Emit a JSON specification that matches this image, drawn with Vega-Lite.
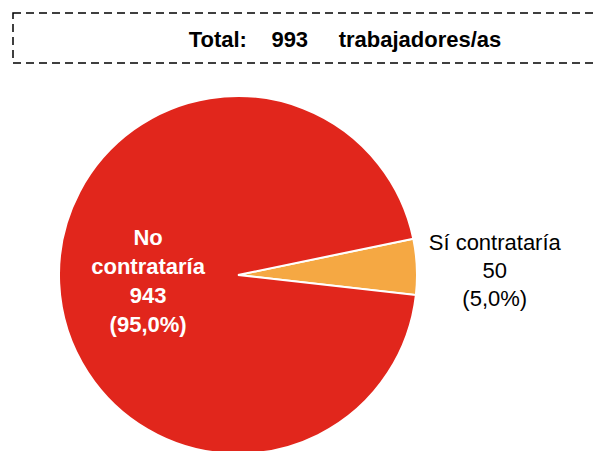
{
  "$schema": "https://vega.github.io/schema/vega-lite/v6.json",
  "padding": {"left": 12, "top": 12, "right": 0, "bottom": 0},
  "background": "white",
  "bounds": "flush",
  "config": {"font": "Liberation Sans", "concat": {"spacing": 34}},
  "datasets": {
    "header": [
      {"texto": "Total:\u00a0\u00a0\u00a0\u00a0993\u00a0\u00a0\u00a0\u00a0\u00a0trabajadores/as"}
    ],
    "respuestas": [
      {"cat": "Sí contrataría", "n": 50, "ord": 1, "inner": "", "outer": "Sí contrataría\n50\n(5,0%)"},
      {"cat": "No contrataría", "n": 943, "ord": 2, "inner": "No\ncontrataría\n943\n(95,0%)", "outer": ""}
    ]
  },
  "vconcat": [
    {
      "width": 590,
      "height": 50,
      "data": {"name": "header"},
      "view": {"stroke": "black", "strokeWidth": 1.5, "strokeDash": [8, 5]},
      "mark": {"type": "text", "fontSize": 22, "fontWeight": "bold", "color": "black", "dx": 37, "dy": 2},
      "encoding": {"text": {"field": "texto", "type": "nominal"}}
    },
    {
      "width": 450,
      "height": 356,
      "data": {"name": "respuestas"},
      "view": {"stroke": null},
      "encoding": {
        "theta": {"field": "n", "type": "quantitative", "stack": true, "scale": {"range": [1.3666, 7.6498]}},
        "order": {"field": "ord", "type": "quantitative"}
      },
      "layer": [
        {
          "mark": {"type": "arc", "outerRadius": 179, "stroke": "white", "strokeWidth": 2},
          "encoding": {
            "color": {
              "field": "cat",
              "type": "nominal",
              "scale": {"domain": ["No contrataría", "Sí contrataría"], "range": ["#E1261C", "#F5A843"]},
              "legend": null
            }
          }
        },
        {
          "mark": {"type": "text", "radius": 90, "dy": -41, "fontSize": 22, "fontWeight": "bold", "color": "white", "lineBreak": "\n", "lineHeight": 29},
          "encoding": {"text": {"field": "inner", "type": "nominal"}}
        },
        {
          "mark": {"type": "text", "radius": 225, "dx": 32, "dy": -22, "fontSize": 22, "color": "black", "lineBreak": "\n", "lineHeight": 28},
          "encoding": {"text": {"field": "outer", "type": "nominal"}}
        }
      ]
    }
  ]
}
